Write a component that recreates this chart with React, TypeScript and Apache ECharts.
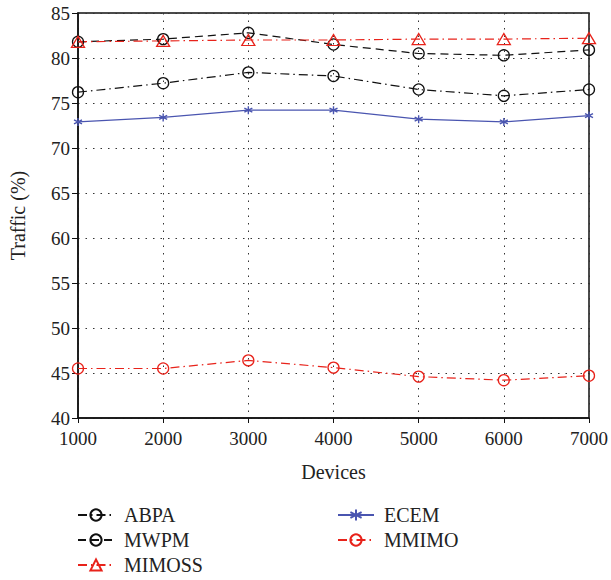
import React, { useEffect, useRef } from "react";
import * as echarts from "echarts";

const devices = [1000, 2000, 3000, 4000, 5000, 6000, 7000];
const abpa = [76.2, 77.2, 78.4, 78.0, 76.5, 75.8, 76.5];
const mwpm = [81.8, 82.1, 82.8, 81.5, 80.5, 80.3, 80.9];
const mimoss = [81.8, 81.9, 82.0, 82.0, 82.1, 82.1, 82.2];
const ecem = [72.9, 73.4, 74.2, 74.2, 73.2, 72.9, 73.6];
const mmimo = [45.5, 45.5, 46.4, 45.6, 44.6, 44.2, 44.7];

const FONT = "Liberation Serif";
const DASH_DOT = [9, 4, 1.5, 4];
const DASHED = [8, 5];
const ASTERISK = "path://M5,0L5,10M0.7,2.5L9.3,7.5M0.7,7.5L9.3,2.5";

const pairs = (ys: number[]) => devices.map((x, i) => [x, ys[i]]);

export default function App() {
  const ref = useRef<HTMLDivElement>(null);

  useEffect(() => {
    if (!ref.current) return;
    const chart = echarts.init(ref.current, undefined, { renderer: "svg" });

    const hollow = (color: string) => ({
      color: "rgba(255,255,255,0)",
      borderColor: color,
      borderWidth: 1.3,
    });

    const legendText = {
      fontFamily: FONT,
      fontSize: 20,
      color: "#222",
      lineHeight: 20,
      padding: [0, 0, 0, 5],
    };

    chart.setOption({
      animation: false,
      grid: {
        left: 76,
        top: 13,
        right: 16,
        bottom: 162,
        show: true,
        borderColor: "#111",
        borderWidth: 1.5,
        backgroundColor: "transparent",
      },
      xAxis: {
        type: "value",
        min: 1000,
        max: 7000,
        interval: 1000,
        name: "Devices",
        nameLocation: "middle",
        nameGap: 44,
        nameTextStyle: { fontFamily: FONT, fontSize: 20, color: "#222" },
        axisLine: { lineStyle: { color: "#111", width: 1.5 } },
        axisTick: { show: true, length: 5, lineStyle: { color: "#111" } },
        axisLabel: {
          fontFamily: FONT,
          fontSize: 19,
          color: "#222",
          margin: 11,
          formatter: (v: number) => String(v),
        },
        splitLine: { show: true, lineStyle: { color: "#333", type: [1.5, 6], width: 1 } },
      },
      yAxis: {
        type: "value",
        min: 40,
        max: 85,
        interval: 5,
        name: "Traffic (%)",
        nameLocation: "middle",
        nameGap: 50,
        nameTextStyle: { fontFamily: FONT, fontSize: 20, color: "#222" },
        axisLine: { lineStyle: { color: "#111", width: 1.5 } },
        axisTick: { show: true, length: 6, lineStyle: { color: "#111" } },
        axisLabel: { fontFamily: FONT, fontSize: 19, color: "#222", margin: 8 },
        splitLine: { show: true, lineStyle: { color: "#333", type: [1.5, 6], width: 1 } },
      },
      legend: [
        {
          orient: "vertical",
          left: 72,
          top: 500,
          height: 80,
          itemWidth: 36,
          itemHeight: 14,
          itemGap: 5,
          textStyle: legendText,
          data: ["ABPA", "MWPM", "MIMOSS"],
        },
        {
          orient: "vertical",
          left: 332,
          top: 500,
          height: 80,
          itemWidth: 36,
          itemHeight: 14,
          itemGap: 5,
          textStyle: legendText,
          data: ["ECEM", "MMIMO"],
        },
      ],
      series: [
        {
          name: "ABPA",
          type: "line",
          data: pairs(abpa),
          symbol: "circle",
          symbolSize: 11,
          itemStyle: hollow("#111"),
          lineStyle: { color: "#111", width: 1.2, type: DASH_DOT },
        },
        {
          name: "MWPM",
          type: "line",
          data: pairs(mwpm),
          symbol: "circle",
          symbolSize: 11,
          itemStyle: hollow("#111"),
          lineStyle: { color: "#111", width: 1.2, type: DASHED },
        },
        {
          name: "MIMOSS",
          type: "line",
          data: pairs(mimoss),
          symbol: "triangle",
          symbolSize: [13, 11],
          itemStyle: hollow("#e8231b"),
          lineStyle: { color: "#e8231b", width: 1.2, type: DASH_DOT },
        },
        {
          name: "ECEM",
          type: "line",
          data: pairs(ecem),
          symbol: ASTERISK,
          symbolSize: 8,
          itemStyle: { color: "rgba(0,0,0,0)", borderColor: "#4a55b0", borderWidth: 1.4 },
          lineStyle: { color: "#4a55b0", width: 1.3, type: "solid" },
        },
        {
          name: "MMIMO",
          type: "line",
          data: pairs(mmimo),
          symbol: "circle",
          symbolSize: 11,
          itemStyle: hollow("#e8231b"),
          lineStyle: { color: "#e8231b", width: 1.2, type: DASH_DOT },
        },
      ],
    });

    return () => chart.dispose();
  }, []);

  return <div ref={ref} style={{ width: 611, height: 580, position: "absolute", left: 0, top: 0 }} />;
}
